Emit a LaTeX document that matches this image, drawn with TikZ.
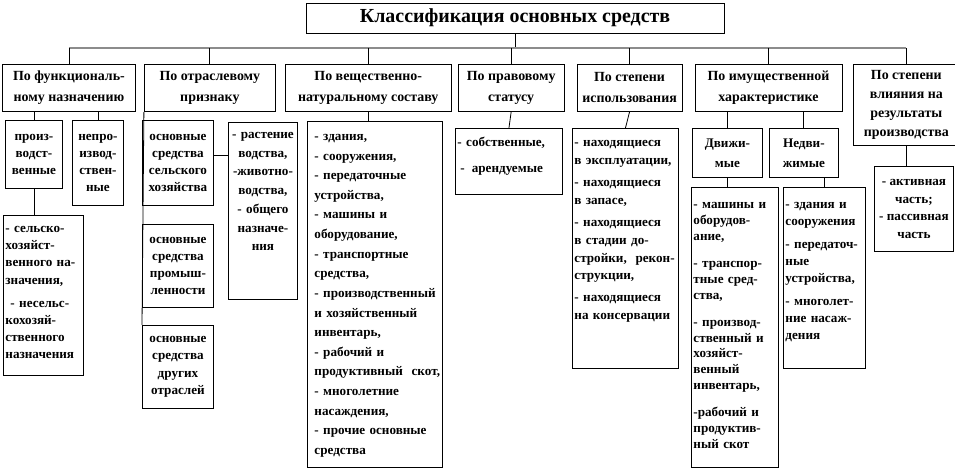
\documentclass[tikz,border=0pt]{standalone}
\usepackage{fontspec}
\setmainfont{Liberation Serif}
\usetikzlibrary{positioning, calc}
\definecolor{clsLine}{HTML}{000000}
\definecolor{clsBus}{HTML}{8C8C8C}
\newcommand{\clsTitle}{\fontsize{20}{24}\selectfont\bfseries}
\newcommand{\clsHead}{\fontsize{14}{21}\selectfont\bfseries}
\newcommand{\clsBodyAt}[1]{\fontsize{13.2}{#1}\selectfont\bfseries}
\tikzset{
  clsnode/.style={
    draw=clsLine, line width=0.9bp, inner sep=2bp, align=center,
    font=\clsBodyAt{17.3}
  },
  titlebox/.style={clsnode, font=\clsTitle, minimum width=418bp, minimum height=30bp},
  headbox/.style={clsnode, font=\clsHead, minimum height=47bp},
  itembox/.style={clsnode, anchor=north west},
  listbox/.style={
    clsnode, anchor=north west, align=left, inner xsep=2bp, inner ysep=0pt,
    text height=18bp
  },
  link/.style={draw=clsLine, line width=0.8bp},
  bus/.style={draw=clsBus, line width=1.8bp}
}
\begin{document}
\begin{tikzpicture}[x=1bp, y=-1bp]
  \useasboundingbox (0,0) rectangle (955,469);
  \hyphenpenalty=10000
  \exhyphenpenalty=10000

  % title and criteria
  \node[titlebox] (title) at (515,18) {Классификация основных средств};
  \node[headbox, minimum width=133bp, anchor=north west] (cat1) at (2,64)
    {По функциональ-\\ному назначению};
  \node[headbox, minimum width=131bp, right=8bp of cat1] (cat2) {По отраслевому\\признаку};
  \node[headbox, minimum width=166bp, right=9bp of cat2] (cat3) {По вещественно-\\натуральному составу};
  \node[headbox, minimum width=106bp, right=6bp of cat3] (cat4) {По правовому\\статусу};
  \node[headbox, minimum width=105bp, right=12bp of cat4] (cat5) {По степени\\использования};
  \node[headbox, minimum width=147bp, right=12bp of cat5] (cat6) {По имущественной\\характеристике};
  \node[headbox, minimum width=105bp, minimum height=81bp, font=\fontsize{14}{19}\selectfont\bfseries,
    right=11bp of cat6.north east, anchor=north west] (cat7)
    {По степени\\влияния на\\результаты\\производства};

  % by function
  \node[itembox, minimum width=57bp, minimum height=68bp] (s1a) at (5,120) {произ-\\водст-\\венные};
  \node[itembox, minimum width=51bp, minimum height=85bp] (s1b) at (72,120) {непро-\\извод-\\ствен-\\ные};
  \node[listbox, text width=76bp, text height=17bp, text depth=143bp] (s1c) at (3,215)
    {-~сельско-\\хозяйст-\\венного~на-\\значения,\\[5.7bp]\hspace*{5bp}-~несельс-\\кохозяй-\\ственного\\назначения};

  % by branch
  \node[itembox, minimum width=71bp, minimum height=85bp] (s2a) at (142,120)
    {основные\\средства\\сельского\\хозяйства};
  \node[itembox, minimum width=71bp, minimum height=83bp, below=18bp of s2a] (s2b)
    {основные\\средства\\промыш-\\ленности};
  \node[itembox, minimum width=71bp, minimum height=83bp, below=17bp of s2b] (s2c)
    {основные\\средства\\других\\отраслей};
  \node[listbox, align=center, text width=65bp, text height=16bp, text depth=161bp,
    font=\clsBodyAt{18.8}] (s2d) at (228,122)
    {-~растение\\водства,\\-животно-\\водства,\\-~общего\\назначе-\\ния};

  % by material composition
  \node[listbox, inner xsep=7bp, text width=121bp, text height=19bp, text depth=327bp,
    font=\clsBodyAt{19.7}] (s3) at (307,121)
    {-~здания,\\-~сооружения,\\-~передаточные\\устройства,\\-~машины~и\\оборудование,\\-~транспортные\\средства,\\-~производственный\\и~хозяйственный\\инвентарь,\\-~рабочий~и\\продуктивный~~скот,\\-~многолетние\\насаждения,\\-~прочие~основные\\средства};

  % by legal status
  \node[listbox, text width=103bp, text depth=48bp] (s4) at (455,128)
    {-~собственные,\\[8.7bp]\hspace*{3bp}-\hspace{7bp}арендуемые};

  % by degree of use
  \node[listbox, text width=102bp, text depth=222bp, font=\clsBodyAt{18}] (s5) at (572,128)
    {-~находящиеся\\в~эксплуатации,\\[4bp]-~находящиеся\\в~запасе,\\[4bp]-~находящиеся\\в~стадии~до-\\стройки,~~рекон-\\струкции,\\[4bp]-~находящиеся\\на~консервации};

  % by property
  \node[itembox, minimum width=70bp, minimum height=49bp, font=\clsBodyAt{20}] (s6a) at (692,128) {Движи-\\мые};
  \node[itembox, minimum width=69bp, minimum height=49bp, font=\clsBodyAt{20}, right=6bp of s6a] (s6b) {Недви-\\жимые};
  \node[listbox, text width=83bp, text height=21bp, text depth=259bp, font=\clsBodyAt{16}] (s6c) at (691,187)
    {-~машины~и\\оборудов-\\ание,\\[11bp]-~транспор-\\тные~сред-\\ства,\\[11bp]-~производ-\\ственный~и\\хозяйст-\\венный\\инвентарь,\\[11bp]-рабочий~и\\продуктив-\\ный~скот};
  \node[listbox, text width=78bp, text height=21bp, text depth=160bp, font=\clsBodyAt{17}] (s6d) at (783,187)
    {-~здания~и\\сооружения\\[6bp]-~передаточ-\\ные\\устройства,\\[6bp]-~многолет-\\ние~насаж-\\дения};

  % by influence on results
  \node[itembox, minimum width=79bp, minimum height=85bp, font=\clsBodyAt{18}] (s7) at (874,166)
    {-~активная\\часть;\\-~пассивная\\часть};

  % connectors
  \coordinate (busY) at (0,48);
  \draw[link] (title.south) -- (title.south |- busY);
  \draw[bus] (cat1.north |- busY) -- (cat7.north |- busY);
  \foreach \c in {cat1,cat2,cat3,cat4,cat5,cat6,cat7}
    \draw[link] (\c.north |- busY) -- (\c.north);

  \draw[link] (s1a.north |- cat1.south) -- (s1a.north);
  \draw[link] (s1b.north |- cat1.south) -- (s1b.north);
  \draw[link] (s1a.south) -- (s1a.south |- s1c.north);

  \draw[link] (cat2.south west) -- (s2c.north west);
  \coordinate (agriLink) at ($(s2a.north east)!0.41!(s2a.south east)$);
  \draw[link] (agriLink) -- (agriLink -| s2d.west);

  \draw[link] (cat3.south) -- (cat3.south |- s3.north);
  \draw[link] (cat4.south) -- (s4.north);
  \draw[link] (cat5.south) -- (s5.north);

  \draw[link] (s6a.north |- cat6.south) -- (s6a.north);
  \draw[link] (s6b.north |- cat6.south) -- (s6b.north);
  \draw[link] (s6a.south) -- (s6a.south |- s6c.north);
  \draw[link] (s6d.north |- s6b.south) -- (s6d.north);

  \draw[link] (cat7.south) -- (cat7.south |- s7.north);
\end{tikzpicture}
\end{document}
